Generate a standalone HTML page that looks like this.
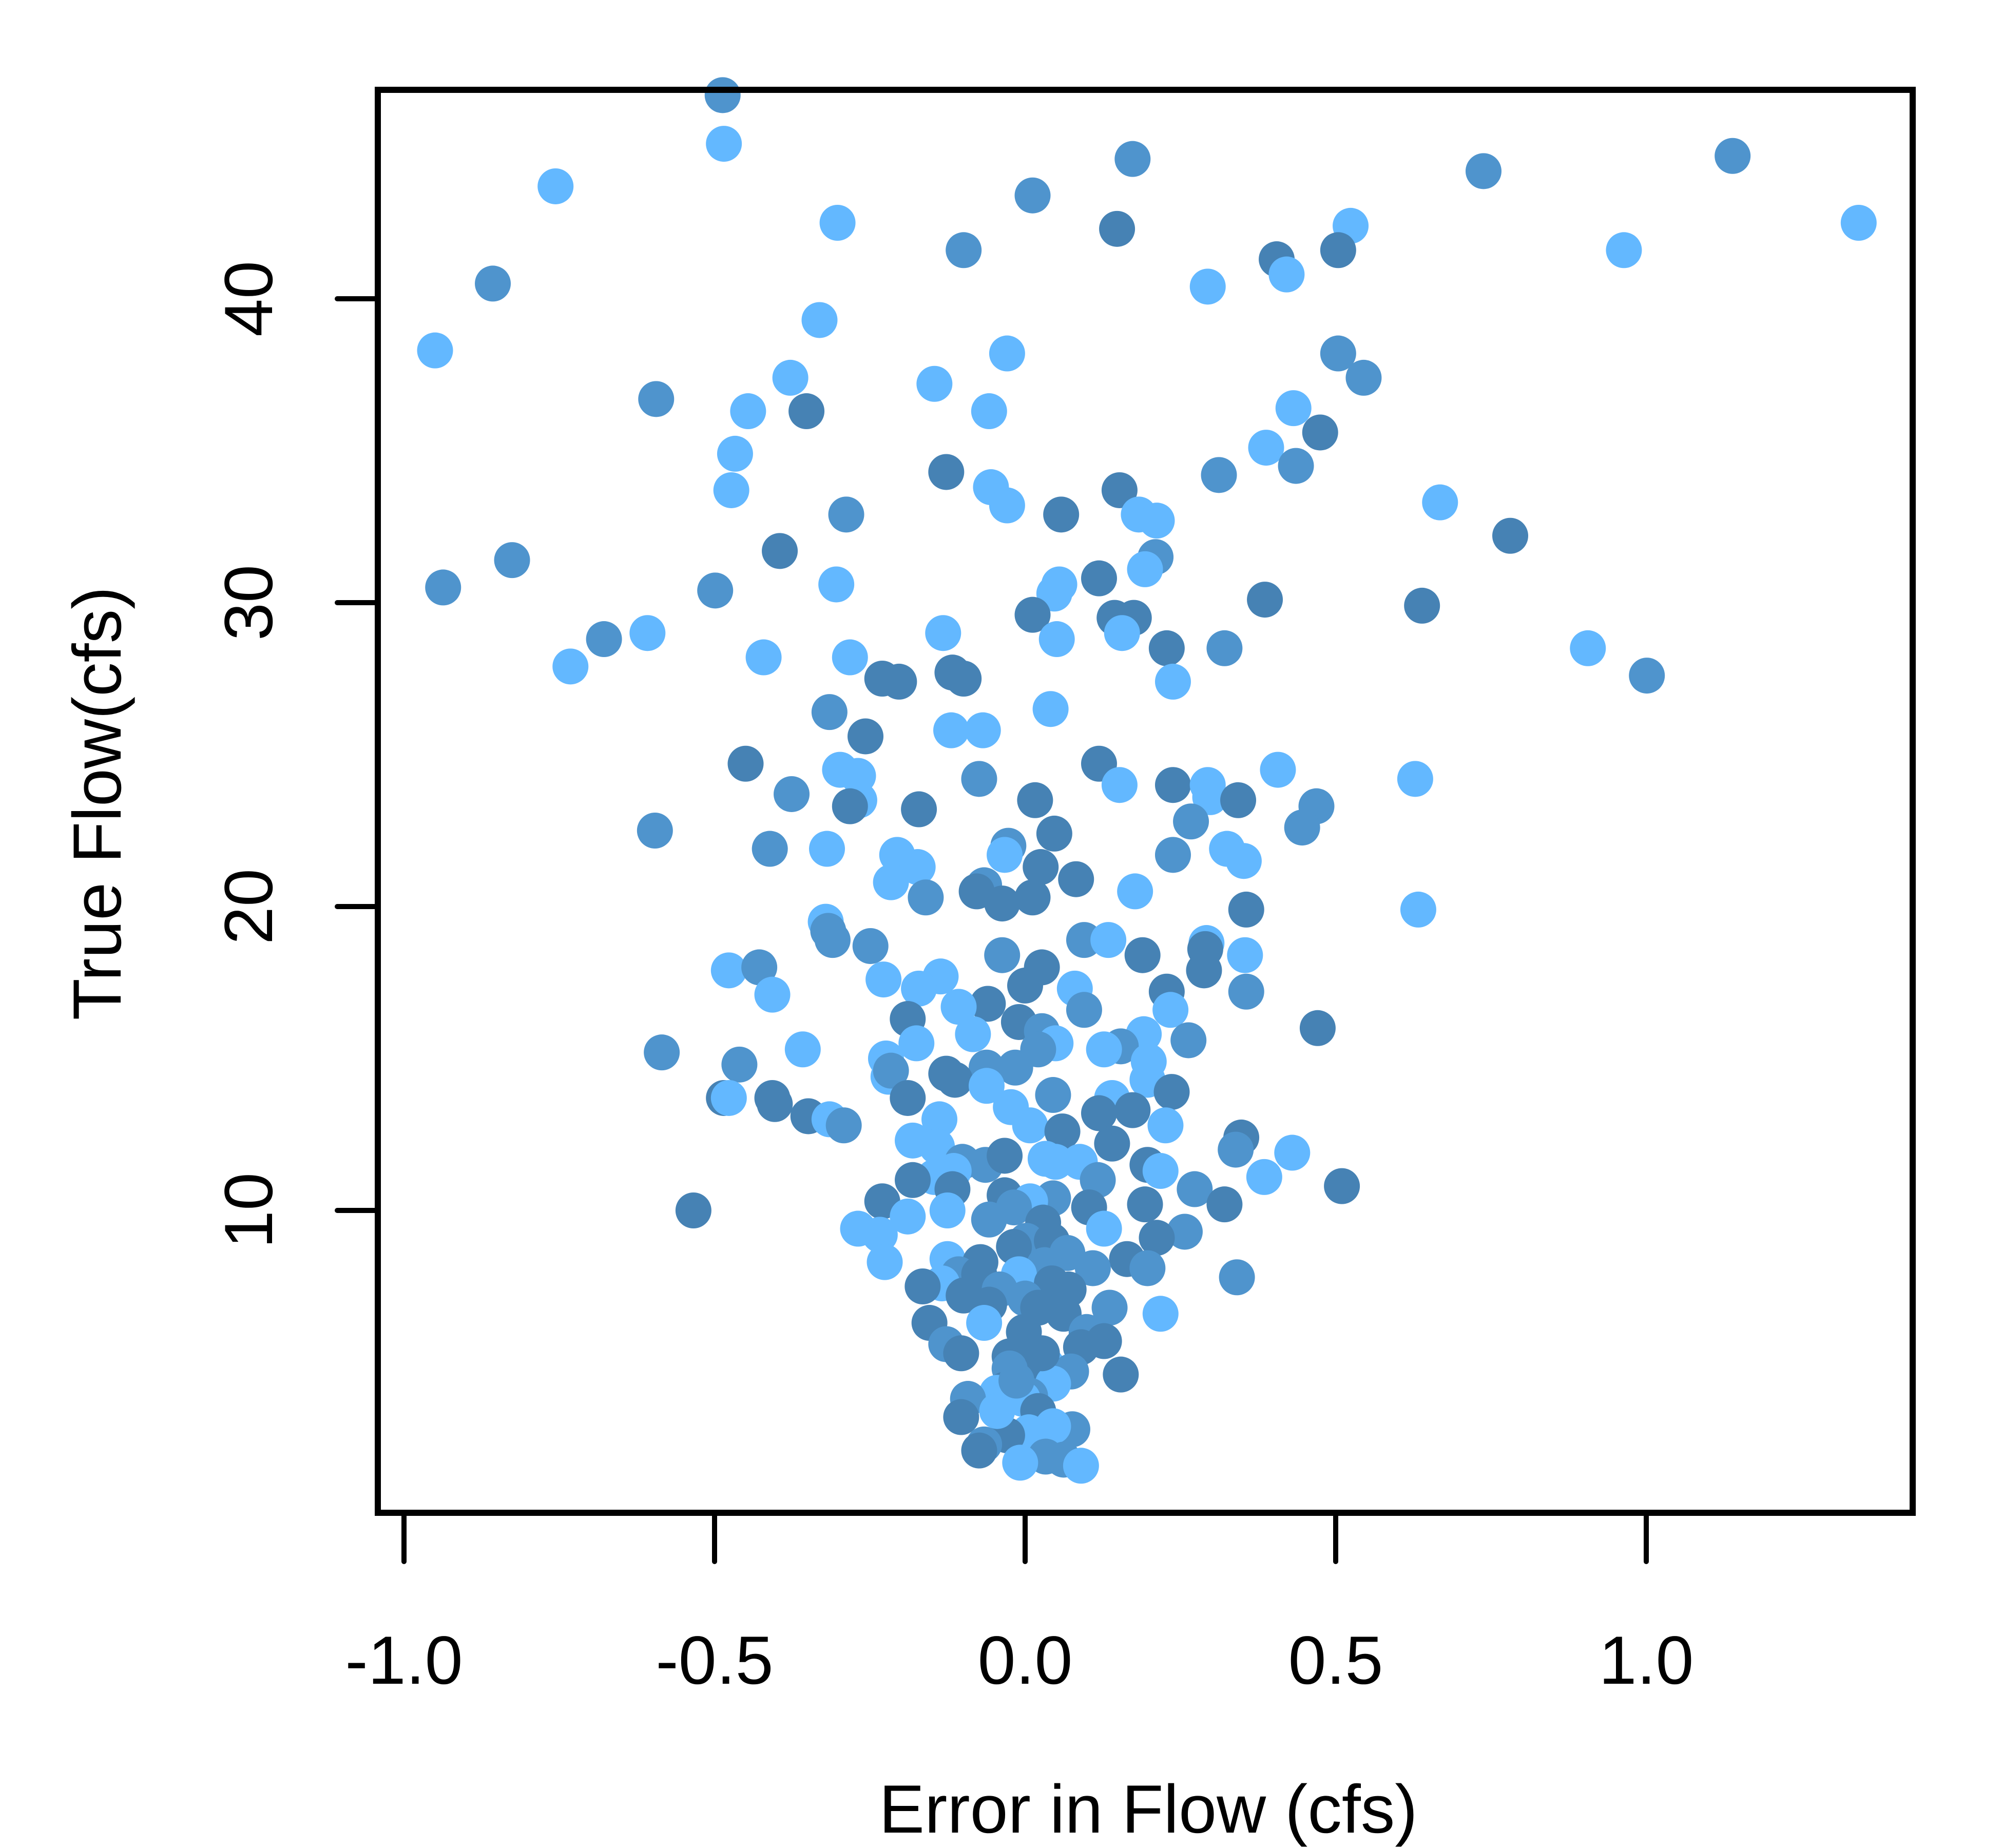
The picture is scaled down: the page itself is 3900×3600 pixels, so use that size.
<!DOCTYPE html>
<html><head><meta charset="utf-8"><style>
html,body{margin:0;padding:0;background:#fff;}
svg{display:block;}
text{font-family:"Liberation Sans",sans-serif;fill:#000;}
</style></head>
<body>
<svg id="chart" width="3900" height="3600" viewBox="0 0 3900 3600" xmlns="http://www.w3.org/2000/svg">
<g id="points"></g>
<rect x="736" y="175" width="2990" height="2772" fill="none" stroke="#000" stroke-width="12"/>
<g id="axes"></g>
<text x="2237" y="3570" font-size="133" text-anchor="middle">Error in Flow (cfs)</text>
<text transform="translate(235,1565) rotate(-90)" font-size="133" text-anchor="middle">True Flow(cfs)</text>
</svg>
<script>
const errX = [-0.487,-0.485,-0.756,-0.302,0.012,0.173,0.148,-0.099,0.738,1.139,1.342,0.964,0.524,0.504,0.405,0.421,0.294,-0.857,-0.950,-0.331,-0.029,0.504,0.545,-0.378,-0.146,-0.594,-0.446,-0.352,-0.058,0.432,0.475,0.388,-0.467,0.436,-0.127,0.312,-0.473,-0.055,-0.029,0.152,0.668,-0.288,0.058,0.183,0.212,0.781,-0.826,-0.395,0.210,0.193,0.119,-0.937,-0.499,-0.304,0.055,0.047,0.386,0.639,0.012,0.144,0.175,0.156,-0.608,-0.132,-0.678,0.051,0.228,0.321,0.906,-0.732,-0.421,-0.282,-0.117,-0.099,-0.230,-0.203,0.238,1.001,-0.315,0.041,-0.119,-0.068,-0.257,-0.450,-0.298,-0.269,-0.074,0.119,0.152,0.238,0.294,0.298,0.407,0.628,-0.376,-0.267,-0.282,0.016,0.343,0.469,-0.171,0.267,-0.596,0.047,0.446,-0.411,-0.319,-0.027,-0.033,-0.206,0.325,0.238,0.352,-0.173,0.025,-0.216,0.082,-0.066,-0.078,-0.160,0.012,0.177,-0.037,0.356,0.633,-0.321,-0.317,-0.310,0.095,0.134,0.292,0.290,-0.249,0.189,-0.037,0.354,-0.477,-0.428,-0.136,0.027,-0.228,0.000,-0.171,0.288,0.080,-0.407,0.228,0.356,-0.060,-0.107,0.095,0.234,-0.189,-0.010,-0.084,0.027,0.191,0.263,0.471,-0.175,0.049,0.021,0.154,0.127,-0.585,-0.358,-0.224,0.199,-0.062,-0.016,-0.460,-0.127,-0.113,-0.220,-0.216,0.197,-0.062,0.236,0.045,0.140,-0.485,-0.477,-0.403,-0.407,-0.189,-0.023,0.173,0.119,-0.349,-0.315,-0.292,-0.138,0.008,0.226,0.060,-0.181,0.348,0.339,0.430,0.140,-0.142,0.033,-0.101,-0.064,-0.033,0.049,0.088,0.197,0.218,-0.115,-0.146,-0.181,0.117,0.385,0.510,0.273,-0.117,-0.033,0.045,0.008,-0.230,-0.125,-0.018,0.103,0.193,0.321,-0.534,-0.189,-0.058,0.029,-0.269,-0.234,0.127,0.257,0.212,0.002,0.043,-0.018,0.068,0.164,-0.226,0.031,-0.125,-0.072,0.109,0.197,-0.107,-0.134,-0.074,-0.010,0.043,-0.041,0.341,-0.165,-0.099,0.070,0.000,-0.058,0.021,0.136,0.062,0.218,-0.154,-0.066,-0.002,0.099,0.127,-0.127,-0.103,-0.025,0.090,0.035,0.006,-0.025,0.074,0.154,0.045,-0.033,-0.045,0.008,-0.004,-0.092,-0.103,0.021,0.076,0.045,0.006,-0.029,-0.066,-0.074,0.033,0.062,0.090,-0.008,-0.045,-0.014,0.027];
const trueY = [46.7,45.1,43.7,42.5,43.4,44.6,42.3,41.6,44.2,44.7,42.5,41.6,42.4,41.6,41.3,40.8,40.4,40.5,38.3,39.3,38.2,38.2,37.4,37.4,37.2,36.7,36.3,36.3,36.3,36.4,35.6,35.1,34.9,34.5,34.3,34.2,33.7,33.8,33.2,33.7,33.3,32.9,32.9,32.9,32.7,32.2,31.4,31.7,31.5,31.1,30.8,30.5,30.4,30.6,30.6,30.3,30.1,29.9,29.6,29.5,29.5,29.0,29.0,29.0,28.8,28.8,28.5,28.5,28.5,27.9,28.2,28.2,27.7,27.5,27.5,27.4,27.4,27.6,26.4,26.5,25.8,25.8,25.6,24.7,24.5,24.3,24.2,24.7,24.0,24.0,24.0,23.6,24.5,24.2,23.7,23.5,23.3,23.5,23.5,23.3,23.2,22.8,22.5,22.4,22.6,21.9,21.9,22.0,21.7,21.7,21.9,21.7,21.5,21.3,21.3,20.8,20.9,20.7,20.5,20.3,20.3,20.5,20.1,19.9,19.9,19.5,19.2,18.9,18.9,18.9,18.8,18.6,18.7,18.4,18.4,18.4,17.9,18.0,17.7,18.0,17.6,17.4,17.3,17.9,17.3,17.1,17.2,17.2,16.8,16.7,16.6,16.6,16.3,16.2,15.8,15.9,15.8,15.6,16.0,15.5,15.5,15.3,15.4,15.3,15.2,15.3,15.0,14.9,14.7,14.7,14.8,14.5,14.3,14.4,14.6,14.3,14.1,13.9,13.8,13.7,13.7,13.7,13.5,13.7,13.7,13.4,13.3,13.2,13.1,13.0,12.8,13.0,12.8,12.8,12.6,12.3,12.4,12.0,11.9,12.2,12.1,11.7,11.6,11.5,11.8,11.6,11.6,11.5,11.3,11.3,11.1,11.0,11.0,11.1,10.8,10.7,10.7,10.5,10.4,10.3,10.3,10.0,10.1,10.1,10.2,10.2,10.0,9.8,9.7,9.6,9.4,9.2,9.4,9.3,9.1,9.0,9.0,8.8,8.6,8.4,8.3,8.2,8.4,8.3,8.1,8.1,7.9,7.6,7.9,7.9,7.6,7.4,7.8,7.5,7.2,7.4,7.1,6.9,6.8,6.8,6.6,6.6,6.3,6.3,6.0,6.0,5.7,5.6,5.3,5.2,5.5,4.9,4.7,4.8,4.7,4.6,4.3,4.1,4.0,3.9,3.8,3.8,3.2,3.4,2.8,2.9,2.7,2.6,2.3,2.1,1.9,1.8,1.6,1.7,3.4,4.4,5.3];
const shade = "MLLLMMDMMMLLLDDLLMLLLMMLLMLDLLDLLMDMLLLDLMDLLDMDMLDMMLLLDDDDDLLLMLDMLLLLDDDDLMMLLLDDLLMDLDLLLLMLDDDMDMMDMMLMLLLMLLDLDMDMDLDDLLMMMLLDMDMLLMLDLDLDLLDMDLMLDDLMLMDLLMMLMLLLMMMDDLMLLDMLDLDDDLDDDLMLLLDLDMLDLLMMDLLDLLLDMLDMDDMLDLMDDDDLMDLLLMDMDDMDLMLDMMMLDLDMMDDDMDDMDLDLDMDMDDDLDMMDLDLMLMDDMLLDMDMMLLLMDMLLLLMMMLLLL";
const palette = {L:"#63B8FF", M:"#4F94CD", D:"#4682B4"};
const xTicks = [-1.0,-0.5,0.0,0.5,1.0];
const xTickLabels = ["-1.0","-0.5","0.0","0.5","1.0"];
const yTicks = [10,20,30,40];
const yTickLabels = ["10","20","30","40"];

function sx(v){ return 1997 + v*1210; }
function sy(v){ return 2358 - (v-10)*59.2; }
const NS = "http://www.w3.org/2000/svg";
const pg = document.getElementById('points');
for (let i=0;i<errX.length;i++){
  const c = document.createElementNS(NS,'circle');
  c.setAttribute('cx', sx(errX[i]));
  c.setAttribute('cy', sy(trueY[i]));
  c.setAttribute('r', 35);
  c.setAttribute('fill', palette[shade[i]] || palette.M);
  
  
  pg.appendChild(c);
}
const ax = document.getElementById('axes');


const xl = document.createElementNS(NS,'line');
xl.setAttribute('x1', sx(xTicks[0])); xl.setAttribute('x2', sx(xTicks[xTicks.length-1]));
xl.setAttribute('y1', 2947); xl.setAttribute('y2', 2947);
xl.setAttribute('stroke','#000'); xl.setAttribute('stroke-width', 12);


ax.appendChild(xl);
xTicks.forEach((t,i)=>{
  const l = document.createElementNS(NS,'line');
  l.setAttribute('x1', sx(t)); l.setAttribute('x2', sx(t));
  l.setAttribute('y1', 2947); l.setAttribute('y2', 3042);
  l.setAttribute('stroke','#000'); l.setAttribute('stroke-width', 10); l.setAttribute('stroke-linecap','round');
  
  
  ax.appendChild(l);
  const tx = document.createElementNS(NS,'text');
  tx.setAttribute('x', sx(t)); tx.setAttribute('y', 3280);
  tx.setAttribute('font-size', 133); tx.setAttribute('text-anchor','middle');
  tx.textContent = xTickLabels[i];
  
  
  ax.appendChild(tx);
});
yTicks.forEach((t,i)=>{
  const l = document.createElementNS(NS,'line');
  l.setAttribute('x1', 736); l.setAttribute('x2', 657);
  l.setAttribute('y1', sy(t)); l.setAttribute('y2', sy(t));
  l.setAttribute('stroke','#000'); l.setAttribute('stroke-width', 10); l.setAttribute('stroke-linecap','round');
  
  
  ax.appendChild(l);
  const tx = document.createElementNS(NS,'text');
  tx.setAttribute('transform', 'translate(530,' + sy(t) + ') rotate(-90)');
  tx.setAttribute('font-size', 133); tx.setAttribute('text-anchor','middle');
  tx.textContent = yTickLabels[i];
  
  
  ax.appendChild(tx);
});
</script>
</body></html>
